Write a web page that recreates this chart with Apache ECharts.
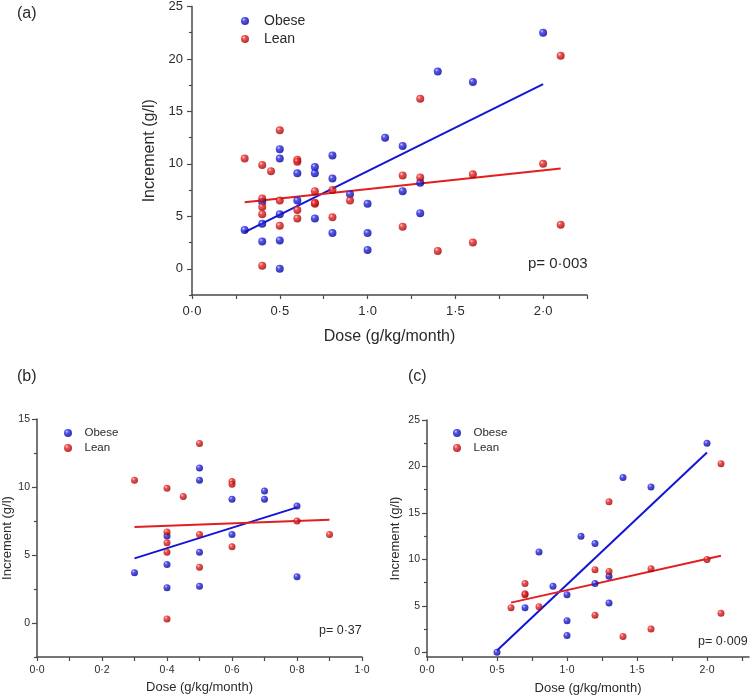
<!DOCTYPE html>
<html><head><meta charset="utf-8">
<script src="https://cdn.jsdelivr.net/npm/echarts@6/dist/echarts.min.js"></script>
<style>html,body{margin:0;padding:0;background:#fff}#c{width:752px;height:697px}</style>
</head><body><div id="c"></div>
<script>
// Panel (b) subset: lower doses
const obeseB = [[0.3,3.7],[0.4,6.4],[0.4,4.3],[0.4,2.6],[0.5,11.4],[0.5,10.5],[0.5,5.2],[0.5,2.7],[0.6,9.1],[0.6,6.5],[0.7,9.7],[0.7,9.1],[0.8,8.6],[0.8,3.4]];
const leanB  = [[0.3,10.5],[0.4,9.9],[0.4,6.7],[0.4,5.9],[0.4,5.2],[0.4,0.3],[0.45,9.3],[0.5,13.2],[0.5,6.5],[0.5,4.1],[0.6,10.4],[0.6,10.2],[0.6,5.6],[0.8,7.5],[0.9,6.5]];
// Panel (c) subset: higher doses
const obeseC = [[0.5,0.0],[0.7,4.8],[0.8,10.8],[0.9,7.1],[1.0,6.2],[1.0,3.4],[1.0,1.8],[1.1,12.5],[1.2,11.7],[1.2,7.4],[1.3,8.2],[1.3,5.3],[1.4,18.8],[1.6,17.8],[2.0,22.5]];
const leanC  = [[0.6,4.8],[0.7,7.4],[0.7,6.3],[0.7,6.2],[0.8,4.9],[1.2,8.9],[1.2,4.0],[1.3,16.2],[1.3,8.7],[1.4,1.7],[1.6,9.0],[1.6,2.5],[2.0,10.0],[2.1,20.3],[2.1,4.2]];
// Panel (a): all points
const obeseA = obeseB.concat(obeseC);
const leanA  = leanB.concat(leanC);
// Fitted lines (end points)
const fitObeseA = [[0.3,3.5],[2.0,17.6]];
const fitLeanA  = [[0.3,6.35],[2.1,9.55]];
const fitObeseB = [[0.3,4.75],[0.8,8.5]];
const fitLeanB  = [[0.3,7.05],[0.9,7.6]];
const fitObeseC = [[0.5,0.2],[2.0,21.5]];
const fitLeanC  = [[0.6,5.35],[2.1,10.4]];
// Tick values
const yLabelsA = [0,5,10,15,20,25], yMinorA = [-2.5,2.5,7.5,12.5,17.5,22.5];
const xLabelsA = [0,0.5,1.0,1.5,2.0], xTicksA = [0,0.25,0.5,0.75,1.0,1.25,1.5,1.75,2.0,2.25];
const yLabelsB = [0,5,10,15], yMinorB = [-2.5,2.5,7.5,12.5];
const xLabelsB = [0,0.2,0.4,0.6,0.8,1.0], xTicksB = [0,0.1,0.2,0.3,0.4,0.5,0.6,0.7,0.8,0.9,1.0];
const yLabelsC = [0,5,10,15,20,25], yMinorC = [2.5,7.5,12.5,17.5,22.5];
const xLabelsC = [0,0.5,1.0,1.5,2.0], xTicksC = [0,0.25,0.5,0.75,1.0,1.25,1.5,1.75,2.0,2.25];
const pTexts = ['p= 0·003','p= 0·37','p= 0·009'];

const FONT = 'Liberation Sans, Arial, sans-serif';
const AX = '#4a4a4a', TX = '#2a2a2a';
const BLUE = '#1414d8', RED = '#e21e1e';
const ballBlue = {type:'radial',x:0.35,y:0.32,r:0.7,colorStops:[{offset:0,color:'#c8ccff'},{offset:0.3,color:'#2a2af0'},{offset:1,color:'#00008a'}]};
const ballRed  = {type:'radial',x:0.35,y:0.32,r:0.7,colorStops:[{offset:0,color:'#ffd0d0'},{offset:0.3,color:'#f02828'},{offset:1,color:'#980000'}]};
const fmt = v => (Math.round(v*10)/10).toFixed(1).replace('.', '·');

function xAx(g, max, labs, ticks, fs, nfs, nameGap, margin) {
  return {type:'value', gridIndex:g, min:0, max:max, name:'Dose (g/kg/month)', nameLocation:'middle', nameGap:nameGap,
    nameTextStyle:{fontSize:nfs,color:TX,fontFamily:FONT},
    axisLine:{show:true,onZero:false,lineStyle:{color:AX,width:1.5}},
    axisTick:{show:true,customValues:ticks,length:4,lineStyle:{color:AX,width:1.2}},
    axisLabel:{customValues:labs,formatter:fmt,fontSize:fs,color:TX,fontFamily:FONT,margin:margin},
    splitLine:{show:false}};
}
function yAx(g, min, max, labs, fs, nfs, nameGap, margin) {
  return {type:'value', gridIndex:g, min:min, max:max, name:'Increment (g/l)', nameLocation:'middle', nameGap:nameGap,
    nameTextStyle:{fontSize:nfs,color:TX,fontFamily:FONT},
    axisLine:{show:true,onZero:false,lineStyle:{color:AX,width:1.5}},
    axisTick:{show:true,customValues:labs,length:5,lineStyle:{color:AX,width:1.2}},
    axisLabel:{customValues:labs,fontSize:fs,color:TX,fontFamily:FONT,margin:margin},
    splitLine:{show:false}};
}
function yMinor(g, min, max, vals) {
  return {type:'value', gridIndex:g, min:min, max:max, position:'left', offset:0,
    axisLine:{show:false}, axisLabel:{show:false}, splitLine:{show:false},
    axisTick:{show:true,customValues:vals,length:3,lineStyle:{color:AX,width:1.2}}};
}
function sc(name, data, g, yi, color, size) {
  return {type:'scatter', name:name, xAxisIndex:g, yAxisIndex:yi, data:data, symbol:'circle', symbolSize:size,
    itemStyle:{color:color}, z:5, silent:true};
}
function ln(data, g, yi, color) {
  return {type:'line', name:'fit', xAxisIndex:g, yAxisIndex:yi, data:data, showSymbol:false, symbol:'none',
    lineStyle:{color:color,width:2}, z:3, silent:true};
}
function lg(left, top, w, fs, gap) {
  return {orient:'vertical', left:left, top:top, data:['Obese','Lean'], itemWidth:w, itemHeight:8, itemGap:gap,
    icon:'circle', textStyle:{fontSize:fs,color:TX,fontFamily:FONT}, selectedMode:false};
}

const option = {
  animation:false,
  backgroundColor:'#fff',
  grid:[
    {left:192, top:5, width:395, height:290},
    {left:37, top:419, width:325, height:238},
    {left:427, top:420, width:322, height:237}
  ],
  xAxis:[ xAx(0,2.25,xLabelsA,xTicksA,13,16,34,10), xAx(1,1.0,xLabelsB,xTicksB,10.5,13,24,8), xAx(2,2.3,xLabelsC,xTicksC,10.5,13,25,8) ],
  yAxis:[ yAx(0,-2.5,25,yLabelsA,13,16,31,9), yAx(1,-2.5,15,yLabelsB,10.5,13,22,7), yAx(2,-0.5,25,yLabelsC,10.5,13,25,7),
          yMinor(0,-2.5,25,yMinorA), yMinor(1,-2.5,15,yMinorB), yMinor(2,-0.5,25,yMinorC) ],
  legend:[ lg(236,9,28,14,4), lg(59,422,23,11.5,3), lg(448,422,23,11.5,3) ],
  graphic:[
    {type:'text', left:17, top:6, style:{text:'(a)', fontSize:16, fill:TX, fontFamily:FONT}},
    {type:'text', left:17, top:369, style:{text:'(b)', fontSize:16, fill:TX, fontFamily:FONT}},
    {type:'text', left:408, top:369, style:{text:'(c)', fontSize:16, fill:TX, fontFamily:FONT}},
    {type:'text', left:528, top:256, style:{text:pTexts[0], fontSize:15, fill:TX, fontFamily:FONT}},
    {type:'text', left:319, top:624, style:{text:pTexts[1], fontSize:12.5, fill:TX, fontFamily:FONT}},
    {type:'text', left:698, top:635, style:{text:pTexts[2], fontSize:12.5, fill:TX, fontFamily:FONT}}
  ],
  series:[
    ln(fitObeseA,0,0,BLUE), ln(fitLeanA,0,0,RED),
    sc('Obese',obeseA,0,0,ballBlue,8), sc('Lean',leanA,0,0,ballRed,8),
    ln(fitObeseB,1,1,BLUE), ln(fitLeanB,1,1,RED),
    sc('Obese',obeseB,1,1,ballBlue,7), sc('Lean',leanB,1,1,ballRed,7),
    ln(fitObeseC,2,2,BLUE), ln(fitLeanC,2,2,RED),
    sc('Obese',obeseC,2,2,ballBlue,7), sc('Lean',leanC,2,2,ballRed,7)
  ]
};
const chart = echarts.init(document.getElementById('c'), null, {renderer:'canvas'});
chart.setOption(option);
</script></body></html>
